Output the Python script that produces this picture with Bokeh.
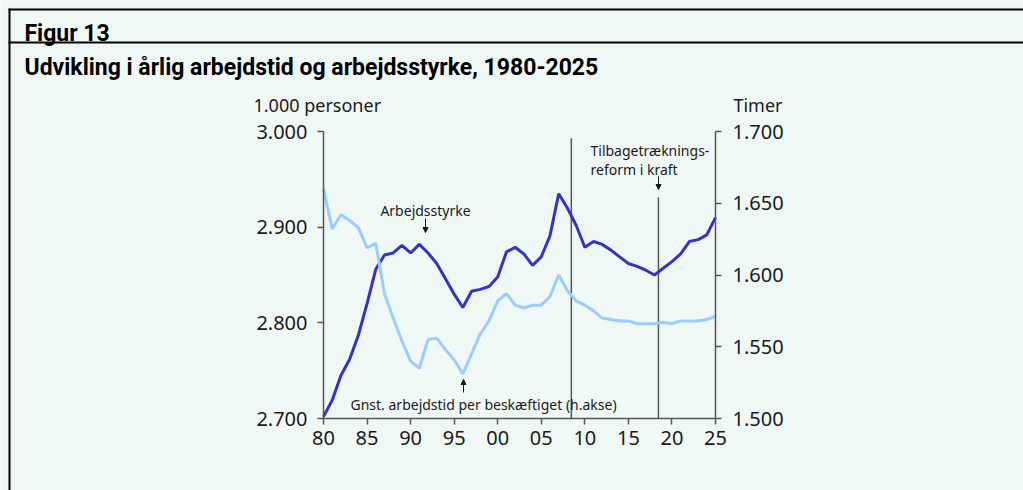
from bokeh.plotting import figure
from bokeh.models import (LinearAxis, Range1d, FixedTicker, Label, Arrow, NormalHead)
from bokeh.embed import file_html
from bokeh.resources import INLINE

years = [1980, 1981, 1982, 1983, 1984, 1985, 1986, 1987, 1988, 1989,
         1990, 1991, 1992, 1993, 1994, 1995, 1996, 1997, 1998, 1999,
         2000, 2001, 2002, 2003, 2004, 2005, 2006, 2007, 2008, 2009,
         2010, 2011, 2012, 2013, 2014, 2015, 2016, 2017, 2018, 2019,
         2020, 2021, 2022, 2023, 2024, 2025]
labour_force = [2702, 2719, 2745, 2762, 2787, 2820, 2856, 2871, 2873, 2881,
                2873, 2882, 2873, 2862, 2846, 2830, 2816, 2833, 2835, 2838,
                2848, 2874, 2879, 2872, 2860, 2869, 2891, 2935, 2920, 2902,
                2879, 2885, 2882, 2876, 2869, 2862, 2859, 2855, 2850, 2857,
                2864, 2872, 2885, 2887, 2892, 2910]
hours = [1660, 1632, 1642, 1638, 1633, 1619, 1622, 1587, 1570, 1554,
         1540, 1535, 1555, 1556, 1548, 1541, 1531, 1545, 1559, 1568,
         1582, 1587, 1579, 1577, 1579, 1579, 1585, 1600, 1589, 1582,
         1579, 1575, 1570, 1569, 1568, 1568, 1566, 1566, 1566, 1567,
         1566, 1568, 1568, 1568, 1569, 1571]

x_ticks = [1980, 1985, 1990, 1995, 2000, 2005, 2010, 2015, 2020, 2025]
x_tick_labels = ["80", "85", "90", "95", "00", "05", "10", "15", "20", "25"]
left_ticks = [2700, 2800, 2900, 3000]
left_tick_labels = ["2.700", "2.800", "2.900", "3.000"]
right_ticks = [1500, 1550, 1600, 1650, 1700]
right_tick_labels = ["1.500", "1.550", "1.600", "1.650", "1.700"]

# event markers (year, top of the marker line in 1.000 persons)
marker_years = [2008.45, 2018.45]
marker_tops = [2993, 2931]

BG = "#f0f8f5"
DARK = "#3333cc"
LIGHT = "#99ccff"
AXIS = "#555555"
FONT = "Noto Sans"
TFONT = "Roboto"

W, H = 1023, 490
# plot box in page pixels: 1980 -> 323, 2025 -> 715 ; top 131, bottom 418
X0, X1, YT, YB = 323, 715, 131, 418
xs = (X1 - X0) / (2025 - 1980)
ys = (YB - YT) / (3000 - 2700)
hs = (YB - YT) / (1700 - 1500)

p = figure(width=W, height=H,
           x_range=(1980 - X0 / xs, 2025 + (W - X1) / xs),
           y_range=(2700 - (H - YB) / ys, 3000 + YT / ys),
           output_backend="svg", toolbar_location=None,
           min_border=0, min_border_left=0, min_border_right=0,
           min_border_top=0, min_border_bottom=0)
p.extra_y_ranges = {"h": Range1d(1500 - (H - YB) / hs, 1700 + YT / hs)}
p.background_fill_color = BG
p.border_fill_color = BG
p.outline_line_color = None
p.grid.visible = False
p.xaxis.visible = False
p.yaxis.visible = False

bottom = LinearAxis(fixed_location=2700, bounds=(1980, 2025))
left = LinearAxis(fixed_location=1980, bounds=(2700, 3000))
right = LinearAxis(y_range_name="h", fixed_location=2025, bounds=(1500, 1700))
p.add_layout(bottom, "below")
p.add_layout(left, "left")
p.add_layout(right, "right")

for ax, ticks, labels in [(bottom, x_ticks, x_tick_labels),
                          (left, left_ticks, left_tick_labels),
                          (right, right_ticks, right_tick_labels)]:
    ax.ticker = FixedTicker(ticks=ticks)
    ax.major_label_overrides = {t: l for t, l in zip(ticks, labels)}
    ax.axis_line_color = AXIS
    ax.axis_line_width = 1.5
    ax.major_tick_line_color = AXIS
    ax.major_tick_line_width = 1.5
    ax.major_tick_out = 6
    ax.major_tick_in = 0
    ax.minor_tick_line_color = None
    ax.major_label_text_font = FONT
    ax.major_label_text_font_size = "20px"
    ax.major_label_text_color = "#1a1a1a"
left.major_label_standoff = 10
right.major_label_standoff = 11
bottom.major_label_standoff = 6

# marker lines
p.segment(x0=marker_years, y0=[2700, 2700], x1=marker_years, y1=marker_tops,
          line_color=AXIS, line_width=1.5)

p.line(years, labour_force, line_color=DARK, line_width=3)
p.line(years, hours, y_range_name="h", line_color=LIGHT, line_width=3)

def lab(text, px, py, size, align="left", font=FONT, style="normal", color="#1a1a1a"):
    p.add_layout(Label(x=px, y=H - py, x_units="screen", y_units="screen",
                       text=text, text_font=font, text_font_size=size,
                       text_align=align, text_baseline="alphabetic",
                       text_font_style=style, text_color=color))

lab("Figur 13", 24, 33, "23px", font=TFONT, style="bold", color="#000000")
lab("Udvikling i årlig arbejdstid og arbejdsstyrke, 1980-2025", 24, 67, "23px",
    font=TFONT, style="bold", color="#000000")
lab("1.000 personer", 253, 104, "18px")
lab("Timer", 782, 104, "18px", align="right")
lab("Arbejdsstyrke", 425, 210, "14px", align="center")
lab("Tilbagetræknings-", 590, 150, "14px")
lab("reform i kraft", 590, 169, "14px")
lab("Gnst. arbejdstid per beskæftiget (h.akse)", 350, 404, "14px")

def arrow(px, py0, py1):
    p.add_layout(Arrow(x_start=px, y_start=H - py0, x_end=px, y_end=H - py1,
                       start_units="screen", end_units="screen",
                       end=NormalHead(size=5, line_color="#1a1a1a", fill_color="#1a1a1a"),
                       line_color="#1a1a1a", line_width=1))

arrow(425, 218, 232)
arrow(658, 176, 189)
arrow(463, 392, 379)

def rule(x0, y0, x1, y1):
    p.add_layout(Arrow(x_start=x0, y_start=H - y0, x_end=x1, y_end=H - y1,
                       start_units="screen", end_units="screen", end=None,
                       line_color="#000000", line_width=2))

rule(8, 9, W, 9)
rule(8, 42, W, 42)
rule(9, 8, 9, H)

open("out.html", "w").write(file_html(p, INLINE))
